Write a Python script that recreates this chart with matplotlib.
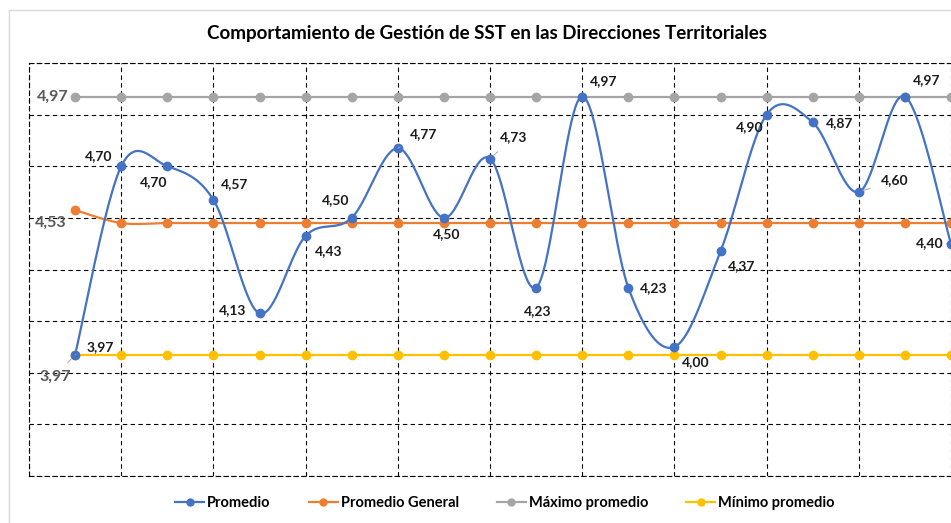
import numpy as np
import matplotlib
matplotlib.use("Agg")
import matplotlib.pyplot as plt
from matplotlib.lines import Line2D

plt.rcParams['font.family'] = ['Lato', 'DejaVu Sans']

# ---- data ----
promedio = [3.97, 4.70, 4.70, 4.57, 4.13, 4.43, 4.50, 4.77, 4.50, 4.73,
            4.23, 4.97, 4.23, 4.00, 4.37, 4.90, 4.87, 4.60, 4.97, 4.40]
promedio_general = [4.53] + [4.48] * 19
maximo = [4.97] * 20
minimo = [3.97] * 20
labels_prom = ["3,97", "4,70", "4,70", "4,57", "4,13", "4,43", "4,50", "4,77", "4,50", "4,73",
               "4,23", "4,97", "4,23", "4,00", "4,37", "4,90", "4,87", "4,60", "4,97", "4,40"]
title = "Comportamiento de Gestión de SST en las Direcciones Territoriales"
series_names = ["Promedio", "Promedio General", "Máximo promedio", "Mínimo promedio"]

# label offsets in pixels (dx, dy) relative to the point
offs = [(25, 8), (-23, 10), (-14, -16), (21, 16), (-27, 3), (23, -15), (-16, 18), (26, 14),
        (3, -16), (24, 21), (2, -24), (21, 15), (25, -1), (21, -15), (21, -15), (-17, -12),
        (27, -1), (36, 12), (22, 16), (-21, 1)]
leaders = {7, 9, 17, 19, 0}

C_BLUE, C_OR, C_GR, C_YE = "#4472C4", "#ED7D31", "#A5A5A5", "#FFC000"


def smooth(y, n=40):
    y = np.asarray(y, float)
    x = np.arange(len(y), dtype=float)
    P = np.column_stack([x, y])
    out = []
    for i in range(len(P) - 1):
        p0 = P[i - 1] if i > 0 else P[i]
        p1, p2 = P[i], P[i + 1]
        p3 = P[i + 2] if i + 2 < len(P) else P[i + 1]
        c1 = p1 + (p2 - p0) / 6.0
        c2 = p2 - (p3 - p1) / 6.0
        t = np.linspace(0, 1, n)[:, None]
        seg = (1 - t) ** 3 * p1 + 3 * (1 - t) ** 2 * t * c1 + 3 * (1 - t) * t ** 2 * c2 + t ** 3 * p2
        out.append(seg if i == 0 else seg[1:])
    s = np.vstack(out)
    return s[:, 0], s[:, 1]


fig = plt.figure(figsize=(9.51, 5.23), dpi=100)
ax = fig.add_axes([29 / 951, 1 - 476 / 523, 1 - 29 / 951, (476 - 63) / 523])

xs = np.arange(len(promedio))
for data, col, sm in [(maximo, C_GR, False), (minimo, C_YE, False),
                      (promedio_general, C_OR, True), (promedio, C_BLUE, True)]:
    if sm:
        sx, sy = smooth(data)
        ax.plot(sx, sy, color=col, lw=1.6, zorder=3)
    else:
        ax.plot(xs, data, color=col, lw=1.6, zorder=3)
    ax.plot(xs, data, ls='none', marker='o', ms=6, color=col, zorder=4)

ax.set_xlim(-1, 18.95)
ax.set_ylim(3.5, 5.1)
ax.set_yticks(np.arange(3.5, 5.11, 0.2))
ax.set_xticks(np.arange(-1, 19.5, 2))
ax.tick_params(left=False, bottom=False, labelleft=False, labelbottom=False)
ax.grid(True, color='black', lw=0.8, ls=(0, (4, 3)))
for side in ['left', 'top', 'bottom']:
    ax.spines[side].set_linestyle((0, (4, 3)))
    ax.spines[side].set_linewidth(0.8)
ax.spines['right'].set_visible(False)

for i, (v, lab) in enumerate(zip(promedio, labels_prom)):
    dx, dy = offs[i]
    kw = {}
    if i in leaders:
        kw['arrowprops'] = dict(arrowstyle='-', color='#A6A6A6', lw=0.7, shrinkA=6, shrinkB=3)
    ax.annotate(lab, (xs[i], v), xytext=(dx, dy), textcoords='offset pixels',
                ha='center', va='center', fontsize=10, fontweight='bold', color='#1a1a1a',
                zorder=6, annotation_clip=False, **kw)

side_kw = dict(textcoords='offset pixels', ha='center', va='center', fontsize=11.5,
               fontweight='bold', color='#595959', zorder=6, annotation_clip=False)
ax.annotate("4,97", (0, maximo[0]), xytext=(-22, 0), **side_kw)
ax.annotate("4,53", (0, promedio_general[0]), xytext=(-24, -13), **side_kw)
ax.annotate("3,97", (0, minimo[0]), xytext=(-20, -22),
            arrowprops=dict(arrowstyle='-', color='#A6A6A6', lw=0.7, shrinkA=4, shrinkB=4), **side_kw)

fig.text(0.512, 1 - 33 / 523, title, ha='center', va='center', fontsize=13.5, fontweight='bold')

handles = [Line2D([], [], color=c, lw=1.6, marker='o', ms=5) for c in (C_BLUE, C_OR, C_GR, C_YE)]
fig.legend(handles, series_names, loc='center', bbox_to_anchor=(0.531, 1 - 503 / 523), ncol=4,
           frameon=False, prop={'size': 10.5, 'weight': 'bold'}, columnspacing=2.6,
           handlelength=2.0, handletextpad=0.2)

fig.add_artist(Line2D([9 / 951, 9 / 951], [0, 1 - 10 / 523], color='#D9D9D9', lw=1))
fig.add_artist(Line2D([9 / 951, 1], [1 - 10 / 523, 1 - 10 / 523], color='#D9D9D9', lw=1))

fig.savefig("out.png", dpi=100)
